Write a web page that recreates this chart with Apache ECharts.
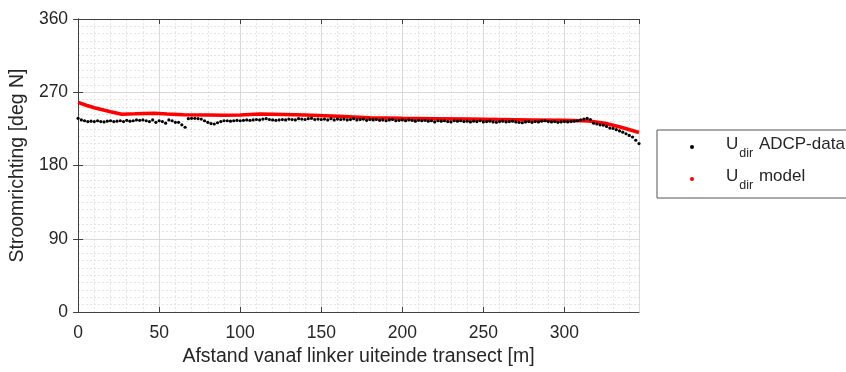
<!DOCTYPE html>
<html>
<head>
<meta charset="utf-8">
<script src="https://cdn.jsdelivr.net/npm/echarts@6/dist/echarts.min.js"></script>
<style>
  html, body { margin: 0; padding: 0; background: #fff; }
  #chart { width: 846px; height: 372px; }
</style>
</head>
<body>
<div id="chart"></div>
<script>
// ADCP measurements, one point every 2 m from the left bank
const adcpStep = 2
const adcpDir = [
  238, 236, 235, 234, 234.5, 234, 235, 234, 233.5, 234.5, 235,
  234, 234.5, 235, 234, 235.5, 234.5, 235, 236, 235.5, 236,
  235, 234, 236, 233, 235, 234, 232, 236, 235, 233,
  233, 230, 227, 237.5, 238,
  238, 237.5, 237, 235, 233, 231.5, 231, 232.5, 234, 235,
  235, 234.5, 235, 235.5, 235, 235.5, 236, 235.5, 236, 236.5, 236, 237, 237.5, 236.5, 236,
  235.5, 236, 236.5, 236, 237, 236.5, 236, 237.5, 237, 236.5, 237.5, 238, 236.5, 237, 236.5,
  237, 236, 237.5, 236, 237, 236.5, 237, 236, 236.5, 237.5, 236, 236.5, 237, 235.5, 236.5,
  236, 236.5, 235.5, 236, 235, 236, 236.5, 235, 235.5, 236, 235, 236, 235.5, 234.5, 235.5,
  235, 235.5, 234.5, 235, 233.5, 235, 234.5, 235, 234, 233.5, 235, 234.5, 235, 234, 234.5,
  233.5, 234.5, 234, 235, 233.5, 234, 234.5, 233.5, 233, 234, 234.5, 233.5, 234, 234.5, 233.5,
  233, 232.5, 233.5, 234, 233, 234, 233.5, 234.5, 235, 234, 233.5, 234, 233, 233.5, 234,
  233.5, 234, 234.5, 235, 236, 237, 238, 236.5, 232, 231,
  230, 229.5, 228, 226, 225.5, 224, 222.5, 221, 219, 217, 215, 211, 207
]

// model result
const modelDist = [0, 5, 10, 15, 20, 27, 35, 47, 55, 65, 80, 90, 100, 112, 120, 140, 160,
  180, 200, 220, 240, 260, 280, 300, 315, 325, 335, 346]
const modelDir = [257.5, 254, 251, 248.5, 246, 243, 243.5, 244.3, 243.2, 242.4, 242, 241.7, 242,
  243.3, 243, 242, 240.5, 238.8, 238, 237.5, 237, 236.5, 236, 235.5, 234.7, 232, 227, 220.5]

const xMax = 346
const yTicks = [0, 90, 180, 270, 360]

const font = 'Liberation Sans, Arial, sans-serif'
const ink = '#262626'
const frame = '#404040'

const adcpData = adcpDir.map((v, i) => [i * adcpStep, v])
const modelData = modelDist.map((d, i) => [d, modelDir[i]])

const legendRich = {
  sp: { width: 27, lineHeight: 22 },
  u: { fontSize: 17, fontFamily: font, color: ink, lineHeight: 22, verticalAlign: 'top' },
  sub: { fontSize: 12.5, fontFamily: font, color: ink, lineHeight: 12, padding: [11, 1, 0, 1], verticalAlign: 'top' }
}

var myChart = echarts.init(document.getElementById('chart'), null, { renderer: 'canvas' })
const option = {
  backgroundColor: '#ffffff',
  animation: false,
  grid: { left: 75.5, top: 19, right: 207, bottom: 60 },
  legend: {
    orient: 'vertical',
    left: 657,
    top: 130,
    padding: [6, 30, 6, 33],
    itemGap: 8,
    itemWidth: 4,
    itemHeight: 4,
    borderColor: '#555',
    borderWidth: 1,
    textStyle: { color: ink, fontFamily: font, fontSize: 17, rich: legendRich },
    data: [
      { name: 'adcp', icon: 'circle', itemStyle: { color: '#000' } },
      { name: 'model', icon: 'circle', itemStyle: { color: '#ff0000' } }
    ],
    formatter: function (name) {
      return name === 'adcp' ? '{sp|}{u|U}{sub|dir}{u| ADCP-data}' : '{sp|}{u|U}{sub|dir}{u| model}'
    }
  },
  xAxis: [
    {
      type: 'value', min: 0, max: xMax, interval: 50,
      name: 'Afstand vanaf linker uiteinde transect [m]',
      nameLocation: 'middle', nameGap: 34,
      nameTextStyle: { color: ink, fontFamily: font, fontSize: 19.5 },
      axisLine: { lineStyle: { color: frame, width: 1 } },
      axisTick: { inside: true, length: 5, lineStyle: { color: frame } },
      axisLabel: { color: ink, fontFamily: font, fontSize: 17.5, margin: 12, showMaxLabel: false },
      splitLine: { show: true, lineStyle: { color: '#d9d9d9', width: 1 } },
      z: 3
    },
    {
      // minor grid every 10 m
      type: 'value', min: 0, max: xMax, interval: 10,
      axisLine: { show: false }, axisTick: { show: false }, axisLabel: { show: false },
      splitLine: { show: true, lineStyle: { color: '#e3e3e3', type: [2, 2], width: 1 } },
      z: 1
    },
    {
      type: 'value', min: 0, max: xMax, interval: 50, position: 'top',
      axisLine: { lineStyle: { color: frame, width: 1 } },
      axisTick: { inside: true, length: 5, lineStyle: { color: frame } },
      axisLabel: { show: false }, splitLine: { show: false },
      z: 3
    }
  ],
  yAxis: [
    {
      type: 'value', min: yTicks[0], max: yTicks[yTicks.length - 1], interval: 90,
      name: 'Stroomrichting [deg N]',
      nameLocation: 'middle', nameGap: 46,
      nameTextStyle: { color: ink, fontFamily: font, fontSize: 19.5 },
      axisLine: { show: true, lineStyle: { color: frame, width: 1 } },
      axisTick: { show: true, inside: true, length: 5, lineStyle: { color: frame } },
      axisLabel: { color: ink, fontFamily: font, fontSize: 17.5, margin: 10 },
      splitLine: { show: true, lineStyle: { color: '#d9d9d9', width: 1 } },
      minorTick: { show: false, splitNumber: 10 },
      minorSplitLine: { show: true, lineStyle: { color: '#e3e3e3', type: [2, 2], width: 1 } },
      z: 3
    },
    {
      type: 'value', min: 0, max: 360, interval: 90, position: 'right',
      axisLine: { show: true, lineStyle: { color: frame, width: 1 } },
      axisTick: { show: true, inside: true, length: 5, lineStyle: { color: frame } },
      axisLabel: { show: false }, splitLine: { show: false },
      z: 3
    }
  ],
  series: [
    {
      name: 'model',
      type: 'line',
      data: modelData,
      showSymbol: false,
      smooth: false,
      lineStyle: { color: '#ff0000', width: 3.5 },
      itemStyle: { color: '#ff0000' },
      z: 4
    },
    {
      name: 'adcp',
      type: 'scatter',
      data: adcpData,
      symbol: 'circle',
      symbolSize: 3.2,
      itemStyle: { color: '#000000', opacity: 1 },
      z: 5
    }
  ]
}
myChart.setOption(option)
window.onresize = function () {
  myChart.resize()
}
</script>
</body>
</html>
